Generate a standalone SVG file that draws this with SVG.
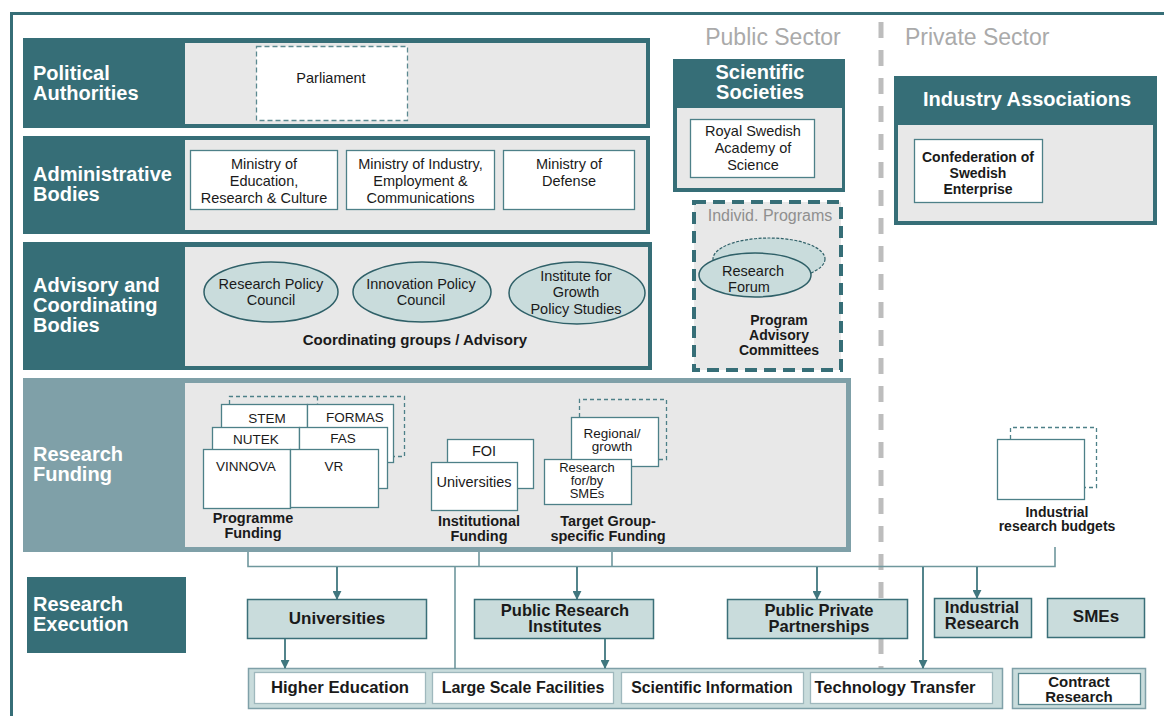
<svg xmlns="http://www.w3.org/2000/svg" width="1164" height="716" viewBox="0 0 1164 716">
<defs>
<style>
text{font-family:"Liberation Sans",Arial,sans-serif;fill:#1a1a1a}
.lab{font-size:20px;font-weight:bold;fill:#fff}
.tl{font-size:20px;font-weight:bold;fill:#fff;text-anchor:middle}
.n{font-size:14.5px;text-anchor:middle}
.nb{font-size:14px;font-weight:bold;text-anchor:middle}
.fb{font-size:14.5px;font-weight:bold;text-anchor:middle}
.s{font-size:13.5px;text-anchor:middle}
.xb{font-size:16.5px;font-weight:bold;text-anchor:middle}
.bb{font-size:16.5px;font-weight:bold;text-anchor:middle}
.sec{font-size:23px;fill:#aaaaaa}
.teal{fill:#366e77}
.gray{fill:#e8e8e8}
.wb{fill:#fff;stroke:#4d8088;stroke-width:1.3}
.wbd{fill:none;stroke:#4d8088;stroke-width:1.3;stroke-dasharray:4 3}
.ell{fill:#c9dcdc;stroke:#2f6068;stroke-width:1.5}
.ex{fill:#c9dcdc;stroke:#3a6f78;stroke-width:1.5}
.ln{fill:none;stroke:#6f979d;stroke-width:1.6}
.ar{fill:none;stroke:#40777f;stroke-width:1.8;marker-end:url(#ah)}
</style>
<marker id="ah" viewBox="0 0 10 10" refX="9" refY="5" markerWidth="5" markerHeight="5" orient="auto" markerUnits="strokeWidth">
<path d="M0,0 L10,5 L0,10 z" fill="#40777f"/>
</marker>
</defs>

<rect width="1164" height="716" fill="#fff"/>
<!-- outer frame -->
<path d="M11.5,716 L11.5,13.5 L1164,13.5" fill="none" stroke="#366e77" stroke-width="3"/>

<!-- sector labels and divider -->
<text class="sec" x="773" y="45" text-anchor="middle">Public Sector</text>
<text class="sec" x="905" y="45">Private Sector</text>
<line x1="881" y1="22" x2="881" y2="668" stroke="#bdbdbd" stroke-width="5" stroke-dasharray="16 12"/>

<!-- Political Authorities -->
<g id="political">
<rect class="teal" x="23" y="38" width="627" height="90"/>
<rect class="gray" x="185" y="43" width="461" height="81"/>
<text class="lab" x="33" y="80">Political</text>
<text class="lab" x="33" y="100">Authorities</text>
</g>
<g id="parliament">
<rect x="256.5" y="46.5" width="151" height="74" fill="#fff" stroke="#5c8a91" stroke-width="1.3" stroke-dasharray="5 3"/>
<text class="n" x="331" y="83">Parliament</text>
</g>

<!-- Administrative Bodies -->
<g id="administrative">
<rect class="teal" x="23" y="136" width="627" height="98"/>
<rect class="gray" x="185" y="140" width="461" height="90"/>
<text class="lab" x="33" y="181">Administrative</text>
<text class="lab" x="33" y="201">Bodies</text>
</g>
<g id="min-edu">
<rect class="wb" x="190.5" y="150.5" width="147" height="59"/>
<text class="n" x="264" y="169">Ministry of</text>
<text class="n" x="264" y="186">Education,</text>
<text class="n" x="264" y="203">Research &amp; Culture</text>
</g>
<g id="min-ind">
<rect class="wb" x="346.5" y="150.5" width="148" height="59"/>
<text class="n" x="420.5" y="169">Ministry of Industry,</text>
<text class="n" x="420.5" y="186">Employment &amp;</text>
<text class="n" x="420.5" y="203">Communications</text>
</g>
<g id="min-def">
<rect class="wb" x="503.5" y="150.5" width="131" height="59"/>
<text class="n" x="569" y="169">Ministry of</text>
<text class="n" x="569" y="186">Defense</text>
</g>

<!-- Advisory and Coordinating Bodies -->
<g id="advisory">
<rect class="teal" x="23" y="242" width="629" height="128"/>
<rect class="gray" x="185" y="247" width="463" height="119"/>
<text class="lab" x="33" y="292">Advisory and</text>
<text class="lab" x="33" y="312">Coordinating</text>
<text class="lab" x="33" y="332">Bodies</text>
<text class="fb" x="415" y="345" style="font-size:15px">Coordinating groups / Advisory</text>
</g>
<g id="rpc">
<ellipse class="ell" cx="271" cy="292" rx="67" ry="30"/>
<text class="n" x="271" y="289">Research Policy</text>
<text class="n" x="271" y="305">Council</text>
</g>
<g id="ipc">
<ellipse class="ell" cx="422" cy="292" rx="69" ry="30"/>
<text class="n" x="421" y="289">Innovation Policy</text>
<text class="n" x="421" y="305">Council</text>
</g>
<g id="igps">
<ellipse class="ell" cx="577" cy="293" rx="68" ry="31"/>
<text class="n" x="576" y="281">Institute for</text>
<text class="n" x="576" y="297">Growth</text>
<text class="n" x="576" y="314">Policy Studies</text>
</g>

<!-- Scientific Societies -->
<g id="scientific-societies">
<rect class="teal" x="673" y="59" width="172" height="133"/>
<rect class="gray" x="677" y="108" width="165" height="80"/>
<text class="tl" x="760" y="79">Scientific</text>
<text class="tl" x="760" y="99">Societies</text>
</g>
<g id="royal-academy">
<rect class="wb" x="690.5" y="119.5" width="124" height="58"/>
<text class="n" x="753" y="136">Royal Swedish</text>
<text class="n" x="753" y="153">Academy of</text>
<text class="n" x="753" y="170">Science</text>
</g>

<!-- Industry Associations -->
<g id="industry-associations">
<rect class="teal" x="894" y="76" width="263" height="149"/>
<rect class="gray" x="898" y="125" width="255" height="96"/>
<text class="tl" x="1027" y="106">Industry Associations</text>
</g>
<g id="confederation">
<rect class="wb" x="914.5" y="139.5" width="128" height="63"/>
<text class="nb" x="978" y="162">Confederation of</text>
<text class="nb" x="978" y="178">Swedish</text>
<text class="nb" x="978" y="194">Enterprise</text>
</g>

<!-- Individual Programs -->
<g id="individ-programs">
<rect x="694" y="202" width="147" height="168" fill="#e8e8e8" stroke="#366e77" stroke-width="4" stroke-dasharray="12 7"/>
<text x="770" y="221" text-anchor="middle" style="font-size:16px;fill:#8f8f8f">Individ. Programs</text>
<ellipse cx="769" cy="259" rx="56" ry="21" fill="#c9dcdc" stroke="#2f6068" stroke-width="1.2" stroke-dasharray="3 1.5"/>
<ellipse class="ell" cx="755" cy="275" rx="56" ry="22"/>
<text class="n" x="753" y="276">Research</text>
<text class="n" x="749" y="292">Forum</text>
<text class="nb" x="779" y="325">Program</text>
<text class="nb" x="779" y="340">Advisory</text>
<text class="nb" x="779" y="355">Committees</text>
</g>

<!-- Research Funding -->
<g id="research-funding">
<rect x="23" y="378" width="828" height="174" fill="#7fa0a8"/>
<rect class="gray" x="185" y="383" width="661" height="164"/>
<text class="lab" x="33" y="461">Research</text>
<text class="lab" x="33" y="481">Funding</text>
</g>
<g id="programme-funding">
<path class="wbd" d="M229.5,404 V396.5 H404.5 V456.5 H393"/>
<line class="wbd" x1="317.5" y1="396.5" x2="317.5" y2="404"/>
<rect class="wb" x="221.5" y="404.5" width="86" height="58"/>
<rect class="wb" x="307.5" y="404.5" width="86" height="58"/>
<text class="s" x="267" y="423">STEM</text>
<text class="s" x="355" y="422">FORMAS</text>
<rect class="wb" x="212.5" y="427.5" width="87" height="61"/>
<rect class="wb" x="299.5" y="427.5" width="88" height="61"/>
<text class="s" x="256" y="444">NUTEK</text>
<text class="s" x="343" y="443">FAS</text>
<rect class="wb" x="203.5" y="449.5" width="87" height="59"/>
<rect class="wb" x="290.5" y="449.5" width="88" height="58"/>
<text class="s" x="246" y="471">VINNOVA</text>
<text class="s" x="334" y="471">VR</text>
<text class="fb" x="253" y="523">Programme</text>
<text class="fb" x="253" y="538">Funding</text>
</g>
<g id="institutional-funding">
<rect class="wb" x="447.5" y="439.5" width="86" height="49"/>
<text class="s" x="484" y="456" style="font-size:14.5px">FOI</text>
<rect class="wb" x="431.5" y="462.5" width="86" height="48"/>
<text class="s" x="474" y="487" style="font-size:14.5px">Universities</text>
<text class="fb" x="479" y="526">Institutional</text>
<text class="fb" x="479" y="541">Funding</text>
</g>
<g id="target-funding">
<path class="wbd" d="M579.5,417 V399.5 H666.5 V459.5 H658"/>
<rect class="wb" x="571.5" y="417.5" width="87" height="49"/>
<text class="s" x="612" y="438" style="font-size:13.5px">Regional/</text>
<text class="s" x="612" y="451" style="font-size:13.5px">growth</text>
<rect class="wb" x="544.5" y="459.5" width="87" height="45"/>
<text class="s" x="587" y="472" style="font-size:13px">Research</text>
<text class="s" x="587" y="485" style="font-size:13px">for/by</text>
<text class="s" x="587" y="498" style="font-size:13px">SMEs</text>
<text class="fb" x="608" y="526">Target Group-</text>
<text class="fb" x="608" y="541">specific Funding</text>
</g>
<g id="industrial-budgets">
<path class="wbd" d="M1010.5,439 V427.5 H1096.5 V487.5 H1084"/>
<rect class="wb" x="997.5" y="439.5" width="87" height="60"/>
<text class="nb" x="1057" y="517">Industrial</text>
<text class="nb" x="1057" y="531">research budgets</text>
</g>

<!-- Research Execution -->
<g id="research-execution">
<rect class="teal" x="27" y="577" width="159" height="76"/>
<text class="lab" x="33" y="611">Research</text>
<text class="lab" x="33" y="631">Execution</text>
</g>
<g id="exec-universities">
<rect class="ex" x="247.5" y="599.5" width="179" height="39"/>
<text class="xb" x="337" y="624" style="font-size:17px">Universities</text>
</g>
<g id="exec-pri">
<rect class="ex" x="474.5" y="599.5" width="179" height="39"/>
<text class="xb" x="565" y="616">Public Research</text>
<text class="xb" x="565" y="632">Institutes</text>
</g>
<g id="exec-ppp">
<rect class="ex" x="727.5" y="599.5" width="180" height="39"/>
<text class="xb" x="819" y="616">Public Private</text>
<text class="xb" x="819" y="632">Partnerships</text>
</g>
<g id="exec-industrial">
<rect class="ex" x="934.5" y="598.5" width="97" height="39"/>
<text class="xb" x="982" y="613">Industrial</text>
<text class="xb" x="982" y="629">Research</text>
</g>
<g id="exec-smes">
<rect class="ex" x="1047.5" y="598.5" width="97" height="39"/>
<text class="xb" x="1096" y="622" style="font-size:17px">SMEs</text>
</g>
<g id="services">
<rect x="248.5" y="668.5" width="754" height="40" fill="#c9dcdc" stroke="#7fa0a8" stroke-width="1.5"/>
<rect x="254.5" y="672.5" width="171" height="31" fill="#fff" stroke="#9fb8bd" stroke-width="1.3"/>
<text class="bb" x="340" y="693" style="font-size:16.7px">Higher Education</text>
<rect x="432.5" y="672.5" width="181" height="31" fill="#fff" stroke="#9fb8bd" stroke-width="1.3"/>
<text class="bb" x="523" y="693" style="font-size:16px">Large Scale Facilities</text>
<rect x="621.5" y="672.5" width="182" height="31" fill="#fff" stroke="#9fb8bd" stroke-width="1.3"/>
<text class="bb" x="712" y="693" style="font-size:15.8px">Scientific Information</text>
<rect x="810.5" y="672.5" width="182" height="31" fill="#fff" stroke="#9fb8bd" stroke-width="1.3"/>
<text class="bb" x="895" y="693">Technology Transfer</text>
</g>
<g id="contract-research">
<rect x="1012.5" y="668.5" width="133" height="40" fill="#c9dcdc" stroke="#7fa0a8" stroke-width="1.5"/>
<rect x="1018.5" y="673.5" width="122" height="31" fill="#fff" stroke="#5c8a91" stroke-width="1.3"/>
<text class="bb" x="1079" y="687" style="font-size:15px">Contract</text>
<text class="bb" x="1079" y="702" style="font-size:15px">Research</text>
</g>

<!-- Connectors -->
<g id="connectors">
<path class="ln" d="M248,552 V566.5 H1055 V547"/>
<line class="ln" x1="479" y1="552" x2="479" y2="566"/>
<line class="ln" x1="612" y1="552" x2="612" y2="566"/>
<line class="ln" x1="455" y1="566" x2="455" y2="669"/>
<line class="ar" x1="337" y1="567" x2="337" y2="599"/>
<line class="ar" x1="577" y1="567" x2="577" y2="599"/>
<line class="ar" x1="817" y1="567" x2="817" y2="599"/>
<line class="ar" x1="977" y1="567" x2="977" y2="598"/>
<line class="ar" x1="923" y1="567" x2="923" y2="668"/>
<line class="ar" x1="285" y1="639" x2="285" y2="668"/>
<line class="ar" x1="605" y1="639" x2="605" y2="668"/>
</g>
</svg>
